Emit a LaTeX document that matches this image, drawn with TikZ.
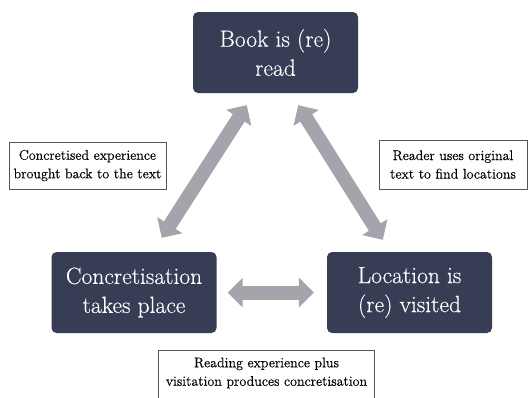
\documentclass[tikz,border=0pt]{standalone}
\usepackage{fontspec}
\setmainfont{Latin Modern Roman}[FakeBold=0.3]
\usetikzlibrary{arrows.meta}
\definecolor{boxnavy}{HTML}{383D56}
\definecolor{arrowgray}{HTML}{A4A5AC}
\definecolor{labelline}{HTML}{555555}
\tikzset{
  mainbox/.style={fill=boxnavy, text=white, rounded corners=5pt, minimum width=165pt, minimum height=81pt, align=center, font=\fontsize{23.5}{29}\selectfont, inner sep=0pt},
  labelbox/.style={draw=labelline, line width=0.9pt, fill=white, align=center, font=\fontsize{14}{18.5}\selectfont, inner sep=0pt},
  bigarrow/.style={draw=arrowgray, line width=14pt, {Triangle[length=15pt,width=29pt]}-{Triangle[length=15pt,width=29pt]}}
}
\begin{document}
\begin{tikzpicture}[x=1pt,y=-1pt]
\useasboundingbox (0,0) rectangle (529,397);
\node[mainbox] (book) at (275.5,52.5) {Book is (re)\\read};
\node[mainbox] (conc) at (134,292.5) {Concretisation\\takes place};
\node[mainbox] (loc) at (409.5,292.5) {Location is\\(re) visited};
\node[labelbox, minimum width=157pt, minimum height=47pt] (l1) at (87.5,165.5) {Concretised experience\\brought back to the text};
\node[labelbox, minimum width=148pt, minimum height=49pt] (l2) at (453,164.5) {Reader uses original\\text to find locations};
\node[align=center, font=\fontsize{14}{18.5}\selectfont, inner sep=0pt, minimum width=215pt, minimum height=44pt] (l3) at (266.5,373) {Reading experience plus\\visitation produces concretisation};
\draw[draw=labelline, line width=0.9pt] (l3.north west) rectangle ([yshift=-12pt]l3.south east);
\draw[bigarrow] ([shift={(-55,-14)}]conc.north east) -- ([shift={(54,12)}]book.south west);
\draw[bigarrow] ([shift={(-60,12)}]book.south east) -- ([shift={(56,-12)}]loc.north west);
\draw[bigarrow] ([xshift=11pt]conc.east) -- ([xshift=-13pt]loc.west);
\end{tikzpicture}
\end{document}
